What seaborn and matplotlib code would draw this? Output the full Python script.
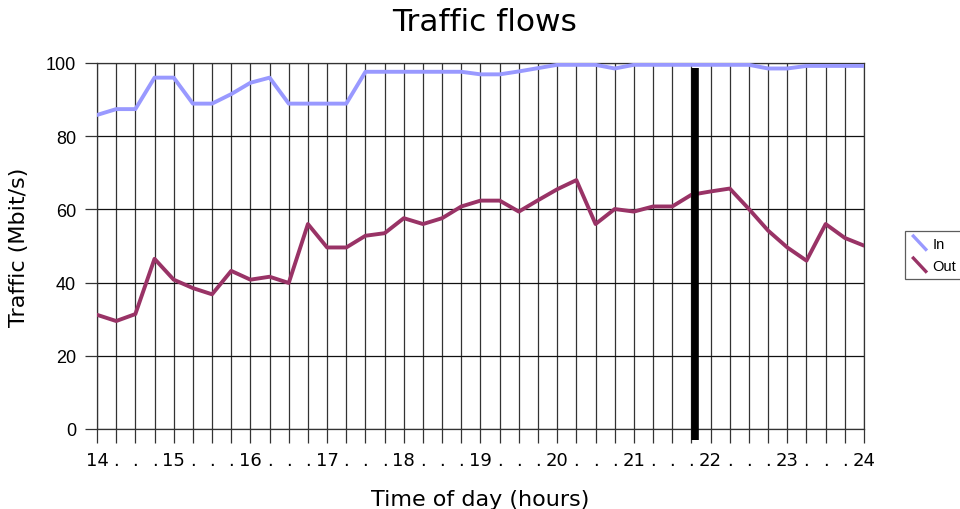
import numpy as np
import pandas as pd
import matplotlib
matplotlib.use("Agg")
import matplotlib.pyplot as plt
from matplotlib.lines import Line2D
from matplotlib.legend_handler import HandlerBase
import seaborn as sns

# quarter-hour samples from 14:00 to 24:00
hours = [14 + q * 0.25 for q in range(41)]

traffic_in = [85.8, 87.4, 87.4, 96.0, 96.0, 88.9, 88.9, 91.5, 94.6, 96.0,
              88.9, 88.9, 88.9, 88.9, 97.6, 97.6, 97.6, 97.6, 97.6, 97.6,
              96.9, 96.9, 97.7, 98.6, 99.5, 99.5, 99.5, 98.5, 99.5, 99.5,
              99.5, 99.5, 99.5, 99.5, 99.5, 98.5, 98.5, 99.2, 99.2, 99.2,
              99.2]

traffic_out = [31.2, 29.5, 31.4, 46.5, 40.8, 38.5, 36.8, 43.2, 40.8, 41.6,
               39.9, 56.0, 49.6, 49.6, 52.8, 53.5, 57.6, 56.0, 57.6, 60.8,
               62.4, 62.4, 59.4, 62.5, 65.5, 68.0, 56.0, 60.1, 59.4, 60.8,
               60.8, 64.0, 64.9, 65.7, 60.1, 54.2, 49.6, 46.0, 56.0, 52.2,
               50.1]

series_names = ["In", "Out"]
colors = {"In": "#9999ff", "Out": "#993366"}
now_marker = 21.8

x_labels = [str(int(h)) if h == int(h) else "." for h in hours]

df = pd.DataFrame({
    "hour": hours * 2,
    "traffic": traffic_in + traffic_out,
    "series": ["In"] * len(hours) + ["Out"] * len(hours),
})


# legend keys drawn as short diagonal strokes
class DiagHandler(HandlerBase):
    def create_artists(self, legend, orig_handle, xdescent, ydescent,
                       width, height, fontsize, trans):
        ln = Line2D([-xdescent + 1, -xdescent + width - 1],
                    [-ydescent + height + 2, -ydescent - 2],
                    color=orig_handle.get_color(), lw=2.4,
                    solid_capstyle="butt", transform=trans)
        return [ln]


sns.set_style("white")
plt.rcParams["font.family"] = ["DejaVu Sans"]
plt.rcParams["text.color"] = "black"
plt.rcParams["axes.labelcolor"] = "black"
plt.rcParams["xtick.color"] = "black"
plt.rcParams["ytick.color"] = "black"

fig = plt.figure(figsize=(9.6, 5.1), dpi=100)
ax = fig.add_axes([97 / 960, 1 - 430 / 510, 767 / 960, 366 / 510])

# grid
for h in hours:
    ax.axvline(h, color="#333333", lw=0.9, zorder=1)
for v in range(0, 101, 20):
    ax.axhline(v, color="#111111", lw=0.9, zorder=1)

sns.lineplot(data=df, x="hour", y="traffic", hue="series",
             hue_order=series_names, palette=colors, lw=2.8,
             legend=False, ax=ax, zorder=3)

# current time bar
ax.plot([now_marker, now_marker], [-3, 98.6], color="black", lw=5.5,
        solid_capstyle="butt", clip_on=False, zorder=4)

ax.set_xlim(14, 24)
ax.set_ylim(0, 100)
ax.set_xticks(hours)
ax.set_xticklabels(x_labels, fontsize=13)
ax.set_yticks(range(0, 101, 20))
ax.set_yticklabels([str(v) for v in range(0, 101, 20)], fontsize=13,
                   family="Liberation Sans")
ax.tick_params(axis="x", length=10, width=0.9, color="#333333", pad=6,
               direction="out", bottom=True, labelcolor="black")
ax.tick_params(axis="y", length=9, width=0.9, color="#333333", pad=6,
               direction="out", left=True, labelcolor="black")
for s in ax.spines.values():
    s.set_color("#333333")
    s.set_linewidth(0.9)

ax.set_xlabel("Time of day (hours)", fontsize=16, labelpad=14, color="black")
ax.set_ylabel("Traffic (Mbit/s)", fontsize=16, labelpad=12, color="black")
fig.suptitle("Traffic flows", fontsize=22.5, x=485 / 960, y=0.985, va="top",
             color="black")

handles = [Line2D([], [], color=colors[n]) for n in series_names]
leg = fig.legend(handles, series_names, loc="upper left",
                 bbox_to_anchor=(905 / 960, 1 - 232 / 510),
                 handler_map={Line2D: DiagHandler()},
                 prop={"family": "Liberation Sans", "size": 10.5},
                 frameon=True, fancybox=False, borderpad=0.4,
                 handlelength=1.2, handletextpad=0.3, labelspacing=0.55,
                 borderaxespad=0)
leg.get_frame().set_edgecolor("#333333")
leg.get_frame().set_linewidth(0.9)
for t in leg.get_texts():
    t.set_color("black")

fig.savefig("out.png", dpi=100)
